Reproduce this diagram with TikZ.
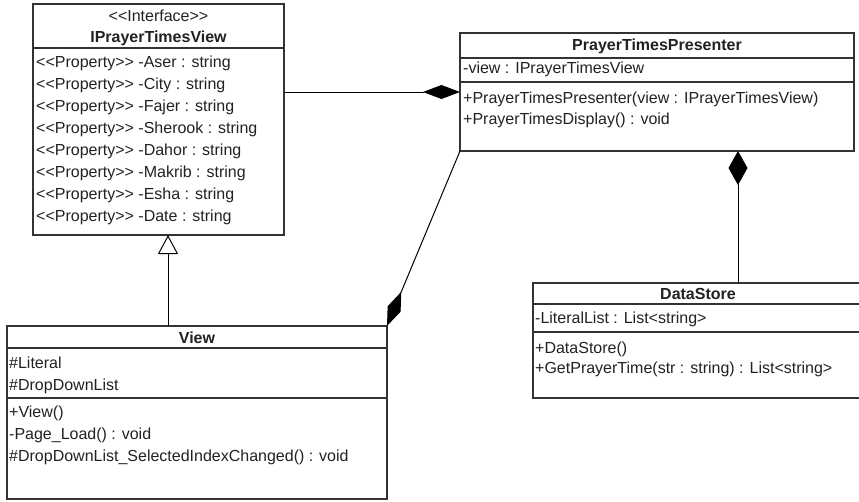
\documentclass[tikz,border=0pt]{standalone}
\usepackage{fontspec}
\setmainfont{Liberation Sans}
\usetikzlibrary{arrows.meta}
\definecolor{bord}{HTML}{333333}
\definecolor{txt}{HTML}{222222}
\newcommand{\lll}{<{}<}
\newcommand{\ggg}{>{}>}
\tikzset{
  box/.style={draw=bord, line width=1.1pt, fill=white, anchor=north west, inner sep=0pt, outer sep=0pt},
  attr/.style={anchor=west, inner sep=0pt, text=txt, font=\fontsize{16}{18}\selectfont},
  ttl/.style={inner sep=0pt, text=txt, font=\fontsize{16}{18}\selectfont\bfseries},
  ster/.style={inner sep=0pt, text=txt, font=\fontsize{16}{18}\selectfont},
  divline/.style={draw=bord, line width=1.1pt},
  comp/.style={draw=black, line width=1pt, -{Diamond[length=37pt,width=14pt]}},
  compv/.style={draw=black, line width=1pt, -{Diamond[length=34pt,width=19pt]}},
  gen/.style={draw=black, line width=1pt, -{Triangle[open,length=19pt,width=20pt,fill=white]}}
}
\begin{document}
\begin{tikzpicture}[x=1pt,y=-1pt]
\useasboundingbox (0,0) rectangle (859,501);
\fill[white] (0,0) rectangle (859,501);

% IPrayerTimesView
\node[box, minimum width=251pt, minimum height=231pt] (iv) at (33,4) {};
\draw[divline] (33,48) -- (284,48);
\node[ster] (ivs) at (158.5,16) {\lll Interface\ggg};
\node[ttl] (ivt) at (158.5,38) {IPrayerTimesView};
\node[attr] (iv1) at (36,63) {\lll Property\ggg{} -Aser : string};
\node[attr] (iv2) at (36,85) {\lll Property\ggg{} -City : string};
\node[attr] (iv3) at (36,107) {\lll Property\ggg{} -Fajer : string};
\node[attr] (iv4) at (36,129) {\lll Property\ggg{} -Sherook : string};
\node[attr] (iv5) at (36,151) {\lll Property\ggg{} -Dahor : string};
\node[attr] (iv6) at (36,173) {\lll Property\ggg{} -Makrib : string};
\node[attr] (iv7) at (36,195) {\lll Property\ggg{} -Esha : string};
\node[attr] (iv8) at (36,217) {\lll Property\ggg{} -Date : string};

% PrayerTimesPresenter
\node[box, minimum width=394pt, minimum height=118pt] (pres) at (460,33) {};
\draw[divline] (460,58) -- (854,58);
\draw[divline] (460,82) -- (854,82);
\node[ttl] (prt) at (657,46) {PrayerTimesPresenter};
\node[attr] (pr1) at (463,69) {-view : IPrayerTimesView};
\node[attr] (pr2) at (463,99) {+PrayerTimesPresenter(view : IPrayerTimesView)};
\node[attr] (pr3) at (463,120) {+PrayerTimesDisplay() : void};

% View
\node[box, minimum width=380pt, minimum height=173pt] (view) at (7,326) {};
\draw[divline] (7,348) -- (387,348);
\draw[divline] (7,398) -- (387,398);
\node[ttl] (vt) at (197,338) {View};
\node[attr] (v1) at (9,363) {\#Literal};
\node[attr] (v2) at (9,386) {\#DropDownList};
\node[attr] (v3) at (9,413) {+View()};
\node[attr] (v4) at (9,435) {-Page\_Load() : void};
\node[attr] (v5) at (9,457) {\#DropDownList\_SelectedIndexChanged() : void};

% DataStore
\node[box, minimum width=330pt, minimum height=115pt] (ds) at (533,283) {};
\draw[divline] (533,304) -- (863,304);
\draw[divline] (533,332) -- (863,332);
\node[ttl] (dst) at (698,294) {DataStore};
\node[attr] (ds1) at (535,319) {-LiteralList : List<string>};
\node[attr] (ds2) at (535,349) {+DataStore()};
\node[attr] (ds3) at (535,369) {+GetPrayerTime(str : string) : List<string>};

% connectors
\coordinate (hy) at (0,92);
\coordinate (gx) at (168,0);
\coordinate (dx) at (738,0);
\draw[comp] (iv.east |- hy) -- (pres.west |- hy);
\draw[gen] (view.north -| gx) -- (iv.south -| gx);
\draw[compv] (ds.north -| dx) -- (pres.south -| dx);
\draw[comp] (pres.south west) -- (view.north east);
\end{tikzpicture}
\end{document}
